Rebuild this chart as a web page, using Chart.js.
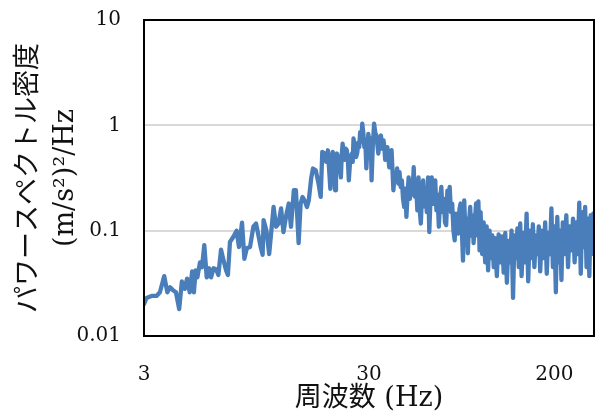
<!DOCTYPE html>
<html>
<head>
<meta charset="utf-8">
<script src="https://cdn.jsdelivr.net/npm/chart.js@4"></script>
<style>
  body { margin: 0; background: #fff; }
  #wrap { width: 596px; height: 415px; }
</style>
</head>
<body>
<div id="wrap"><canvas id="psdChart" width="596" height="415"></canvas></div>
<script>
// frequency (Hz) and power spectral density ((m/s2)^2/Hz)
const freqs = [
    3.00, 3.08, 3.24, 3.41, 3.53, 3.69, 3.81, 3.92, 4.05, 4.16,
    4.30, 4.42, 4.55, 4.66, 4.79, 4.91, 5.00, 5.09, 5.18, 5.32,
    5.43, 5.56, 5.70, 5.84, 5.96, 6.11, 6.27, 6.42, 6.60, 6.76,
    6.95, 7.08, 7.23, 7.48, 7.74, 7.93, 8.18, 8.38, 8.59, 8.88,
    9.19, 9.44, 9.67, 9.90, 10.1, 10.2, 10.5, 10.8, 11.3, 11.6,
    11.9, 12.2, 12.5, 12.9, 13.2, 13.5, 13.9, 14.2, 14.6, 14.9,
    15.2, 15.5, 15.9, 16.2, 16.6, 16.9, 17.4, 17.9, 18.3, 18.6,
    19.0, 19.35, 19.7, 20.2, 20.45, 20.7, 20.95, 21.2, 21.4, 21.6,
    21.85, 22.1, 22.5, 22.7, 22.9, 23.15, 23.4, 23.65, 23.9, 24.15,
    24.4, 24.8, 25.2, 25.4, 25.6, 25.95, 26.3, 26.6, 26.9, 27.15,
    27.4, 27.7, 28.0, 28.3, 28.6, 28.9, 29.2, 29.5, 29.8, 30.05,
    30.3, 30.55, 30.8, 31.2, 31.6, 32.0, 32.4, 32.7, 33.0, 33.45,
    33.9, 34.35, 34.8, 35.1, 35.4, 35.8, 36.2, 36.55, 36.9, 37.35,
    37.8, 38.1,
    38.5, 39, 39.5, 40, 40.5, 41, 41.5, 42, 42.5, 43,
    43.5, 44, 44.5, 45, 45.6, 46.2, 46.8, 47.4, 48, 48.6,
    49.2, 49.8, 50.4, 51, 51.6, 52.2, 52.8, 53.5, 54.2, 54.9,
    55.6, 56.3, 57, 57.7, 58.4, 59.1, 59.8, 60.5, 61.3, 62.1,
    62.9, 63.7, 64.5, 65.3, 66.1, 66.9, 67.7, 68.5, 69.4, 70.3,
    71.2, 72.1, 73, 73.9, 74.8, 75.7, 76.6, 77.5, 78.5, 79.5,
    80.5, 81.5, 82.5, 83.5, 84.5, 85.5, 86.5, 87.5, 88.6, 89.7,
    90.8, 91.9, 93,
    94, 95.5, 97, 98.5, 100, 101.5, 103, 104.5, 106, 107.5,
    109, 111, 113, 115, 117, 119, 121, 123, 125, 127,
    129, 131, 133, 135, 137, 139, 141, 143, 145.5, 148,
    150.5, 153, 155.5, 158, 160.5, 163, 165.5, 168, 170.5, 173,
    176, 179, 182, 185, 188, 191, 194, 197, 200, 203,
    206, 209, 212, 215, 218, 222, 226, 230, 234, 238,
    242, 246, 250, 254, 258, 262, 266, 270, 274, 278,
    282, 286, 290, 294, 298, 300
];
const psd = [
    0.020, 0.023, 0.024, 0.024, 0.026, 0.037, 0.026, 0.029, 0.027, 0.026,
    0.018, 0.033, 0.028, 0.035, 0.026, 0.041, 0.026, 0.042, 0.036, 0.050,
    0.045, 0.073, 0.036, 0.044, 0.036, 0.044, 0.043, 0.038, 0.066, 0.053,
    0.042, 0.038, 0.078, 0.087, 0.100, 0.070, 0.119, 0.054, 0.068, 0.070,
    0.109, 0.117, 0.091, 0.070, 0.059, 0.126, 0.100, 0.060, 0.168, 0.109,
    0.117, 0.163, 0.097, 0.145, 0.181, 0.109, 0.242, 0.242, 0.076, 0.181,
    0.209, 0.194, 0.168, 0.194, 0.313, 0.389, 0.374, 0.280, 0.209, 0.560,
    0.540, 0.450, 0.580, 0.250, 0.480, 0.560, 0.400, 0.242, 0.450, 0.540,
    0.500, 0.430, 0.320, 0.520, 0.670, 0.550, 0.470, 0.600, 0.580, 0.480,
    0.300, 0.500, 0.540, 0.450, 0.750, 0.620, 0.500, 0.550, 0.690, 0.620,
    0.860, 0.700, 1.040, 0.850, 0.620, 0.700, 0.390, 0.600, 0.830, 0.700,
    0.560, 0.750, 0.300, 0.650, 1.040, 0.850, 0.800, 0.650, 0.540, 0.700,
    0.800, 0.600, 0.720, 0.620, 0.470, 0.550, 0.620, 0.500, 0.400, 0.450,
    0.580, 0.400,
    0.242, 0.340, 0.300, 0.390, 0.280, 0.360, 0.260, 0.300, 0.200, 0.168,
    0.250, 0.135, 0.220, 0.320, 0.200, 0.300, 0.220, 0.400, 0.210, 0.280,
    0.156, 0.320, 0.160, 0.117, 0.220, 0.300, 0.170, 0.250, 0.150, 0.320,
    0.097, 0.200, 0.320, 0.180, 0.260, 0.300, 0.156, 0.220, 0.109, 0.200,
    0.260, 0.150, 0.200, 0.120, 0.113, 0.240, 0.160, 0.260, 0.150, 0.181,
    0.100, 0.081, 0.145, 0.100, 0.094, 0.160, 0.181, 0.109, 0.052, 0.194,
    0.094, 0.130, 0.061, 0.120, 0.168, 0.090, 0.140, 0.076, 0.120, 0.181,
    0.090, 0.190, 0.065,
    0.150, 0.060, 0.120, 0.050, 0.110, 0.042, 0.100, 0.055, 0.090, 0.045,
    0.085, 0.037, 0.092, 0.050, 0.088, 0.040, 0.095, 0.032, 0.080, 0.050,
    0.100, 0.023, 0.090, 0.055, 0.105, 0.045, 0.117, 0.037, 0.095, 0.050,
    0.145, 0.033, 0.100, 0.055, 0.115, 0.045, 0.090, 0.060, 0.110, 0.041,
    0.100, 0.055, 0.120, 0.039, 0.095, 0.060, 0.163, 0.045, 0.110, 0.026,
    0.135, 0.050, 0.100, 0.034, 0.120, 0.060, 0.140, 0.045, 0.110, 0.065,
    0.130, 0.050, 0.120, 0.060, 0.184, 0.039, 0.150, 0.070, 0.168, 0.045,
    0.130, 0.037, 0.140, 0.060, 0.146, 0.090
];
const xTicks = [3, 30, 200];
const yTicks = [0.01, 0.1, 1, 10];
const xTitle = '周波数 (Hz)';
const yTitle = ['パワースペクトル密度', '(m/s²)²/Hz'];

const points = freqs.map((f, i) => ({ x: f, y: psd[i] }));

const fontFamily = "'DejaVu Serif', 'Noto Sans CJK JP', serif";

// black frame round the plot area
const plotFrame = {
    id: 'plotFrame',
    afterDatasetsDraw(chart) {
        const { ctx, chartArea: a } = chart;
        ctx.save();
        ctx.strokeStyle = '#000';
        ctx.lineWidth = 2;
        ctx.strokeRect(a.left, a.top, a.right - a.left, a.bottom - a.top);
        ctx.restore();
    }
};

new Chart(document.getElementById('psdChart'), {
    type: 'line',
    data: {
        datasets: [{
            data: points,
            borderColor: '#4a7ebb',
            borderWidth: 4.3,
            borderJoinStyle: 'round',
            borderCapStyle: 'round',
            pointRadius: 0,
            tension: 0
        }]
    },
    options: {
        responsive: false,
        animation: false,
        devicePixelRatio: 1,
        layout: { padding: { top: 20, right: 2, left: 0, bottom: 0 } },
        plugins: { legend: { display: false }, tooltip: { enabled: false } },
        scales: {
            x: {
                type: 'logarithmic',
                min: 3,
                max: 300,
                afterBuildTicks: s => { s.ticks = xTicks.map(v => ({ value: v })); },
                afterFit: s => { s.height = 79; s.paddingLeft = 0; s.paddingRight = 0; },
                grid: { display: false, drawTicks: false },
                border: { display: false },
                ticks: {
                    autoSkip: false,
                    maxRotation: 0,
                    padding: 27,
                    color: '#111',
                    font: { family: fontFamily, size: 20 },
                    callback: v => String(v)
                },
                title: {
                    display: true,
                    text: xTitle,
                    color: '#111',
                    padding: { top: 0, bottom: 0 },
                    font: { family: fontFamily, size: 27, lineHeight: 1.2 }
                }
            },
            y: {
                type: 'logarithmic',
                min: 0.01,
                max: 10,
                afterBuildTicks: s => { s.ticks = yTicks.map(v => ({ value: v })); },
                afterFit: s => { s.width = 144; s.paddingTop = 0; s.paddingBottom = 0; },
                grid: { color: '#d9d9d9', lineWidth: 2, drawTicks: false },
                border: { display: false },
                ticks: {
                    padding: 23,
                    color: '#111',
                    font: { family: fontFamily, size: 20 },
                    callback: v => String(v)
                },
                title: {
                    display: true,
                    text: yTitle,
                    color: '#111',
                    padding: { top: 10, bottom: 0 },
                    font: { family: fontFamily, size: 27, lineHeight: 1.37 }
                }
            }
        }
    },
    plugins: [plotFrame]
});
</script>
</body>
</html>
